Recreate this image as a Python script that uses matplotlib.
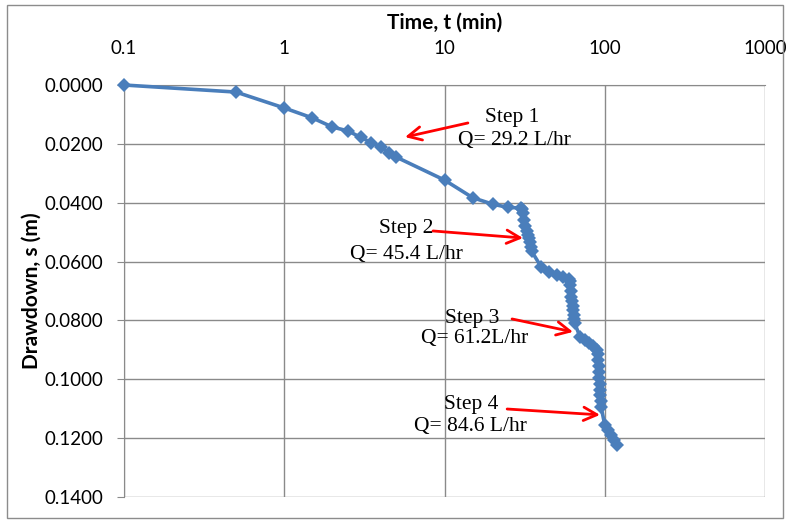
import matplotlib
matplotlib.use("Agg")
import matplotlib.pyplot as plt
from matplotlib.patches import Rectangle
from matplotlib.ticker import FixedLocator, NullLocator

# step drawdown test readings
time_min = [0.1, 0.5, 1, 1.5, 2, 2.5, 3, 3.5, 4, 4.5, 5, 10, 15, 20, 25, 30,
            30.5, 31, 31.5, 32, 32.5, 33, 33.5, 34, 34.5, 35, 40, 45, 50, 55, 60,
            60.5, 61, 61.5, 62, 62.5, 63, 63.5, 64, 64.5, 65, 70, 75, 80, 85, 90,
            90.5, 91, 91.5, 92, 92.5, 93, 93.5, 94, 94.5, 95, 100, 105, 110, 115, 120]
drawdown_m = [0.0, 0.0024, 0.0078, 0.0112, 0.0143, 0.0156, 0.0178, 0.0196, 0.0210, 0.0231, 0.0245,
              0.0323, 0.0383, 0.0405, 0.0416, 0.0418,
              0.0420, 0.0435, 0.0460, 0.0480, 0.0495, 0.0510, 0.0520, 0.0535, 0.0550, 0.0565,
              0.0617, 0.0635, 0.0646, 0.0652, 0.0660,
              0.0665, 0.0680, 0.0700, 0.0720, 0.0735, 0.0750, 0.0765, 0.0780, 0.0795, 0.0810,
              0.0855, 0.0867, 0.0877, 0.0887, 0.0900,
              0.0915, 0.0935, 0.0955, 0.0975, 0.0995, 0.1015, 0.1035, 0.1055, 0.1075, 0.1095,
              0.1155, 0.1172, 0.1189, 0.1206, 0.1223]

x_ticks = [0.1, 1, 10, 100, 1000]
x_tick_labels = ["0.1", "1", "10", "100", "1000"]
y_ticks = [0.0, 0.02, 0.04, 0.06, 0.08, 0.10, 0.12, 0.14]

step_labels = ["Step 1", "Step 2", "Step 3", "Step 4"]
flow_labels = ["Q= 29.2 L/hr", "Q= 45.4 L/hr", "Q= 61.2L/hr", "Q= 84.6 L/hr"]

fig = plt.figure(figsize=(7.89, 5.22), dpi=100)
ax = fig.add_axes([124 / 789, 1 - 497 / 522, (765 - 124) / 789, (497 - 85) / 522])

# outer chart frame
fig.patches.append(Rectangle((7 / 789, 4 / 522), 776 / 789, 513 / 522, transform=fig.transFigure,
                             fill=False, edgecolor="#8c8c8c", lw=1))

grid_c = "#8a8a8a"
ax.set_xscale("log")
ax.set_xlim(0.1, 1000)
ax.set_ylim(0.14, 0.0)
ax.xaxis.set_major_locator(FixedLocator(x_ticks))
ax.xaxis.set_minor_locator(NullLocator())
ax.set_xticklabels(x_tick_labels)
ax.set_yticks(y_ticks)
ax.set_yticklabels(["%.4f" % v for v in y_ticks])
ax.xaxis.tick_top()
ax.xaxis.set_label_position("top")
ax.grid(True, color=grid_c, lw=1)
for side in ["right", "bottom"]:
    ax.spines[side].set_visible(False)
for side in ["left", "top"]:
    ax.spines[side].set_color(grid_c)
ax.tick_params(axis="both", colors=grid_c, labelcolor="black", labelsize=13.5, length=5)
ax.tick_params(axis="x", pad=20, length=0)
ax.tick_params(axis="y", pad=10)
for lab in ax.get_xticklabels() + ax.get_yticklabels():
    lab.set_family("Lato")

ax.set_xlabel("Time, t (min)", family="Lato", fontweight="bold", fontsize=15, labelpad=8)
ax.set_ylabel("Drawdown, s (m)", family="Lato", fontweight="bold", fontsize=15, labelpad=2)

ax.plot(time_min, drawdown_m, color="#4a7ebb", lw=2.6, marker="D", markersize=7,
        markeredgewidth=0, zorder=3, clip_on=False)

# annotations: text positions and arrows in data coords
step_pos = [(26.4, 0.0109), (5.75, 0.0486), (14.9, 0.0795), (14.6, 0.1087)]
flow_pos = [(27.5, 0.0187), (5.75, 0.0575), (15.5, 0.0862), (14.6, 0.1162)]
arrow_tail = [(14.0, 0.0129), (8.48, 0.0496), (26.4, 0.0795), (24.6, 0.1101)]
arrow_head = [(5.67, 0.0177), (30.9, 0.0520), (63.4, 0.0839), (93.4, 0.1121)]

for i in range(4):
    ax.text(step_pos[i][0], step_pos[i][1], step_labels[i], family="Liberation Serif",
            fontsize=15.5, ha="center", va="center", zorder=4)
    ax.text(flow_pos[i][0], flow_pos[i][1], flow_labels[i], family="Liberation Serif",
            fontsize=15.5, ha="center", va="center", zorder=4)
    ax.annotate("", xy=arrow_head[i], xytext=arrow_tail[i],
                arrowprops=dict(arrowstyle="->", color="red", lw=2, mutation_scale=24,
                                shrinkA=0, shrinkB=0), zorder=5)

fig.savefig("out.png", dpi=100)
